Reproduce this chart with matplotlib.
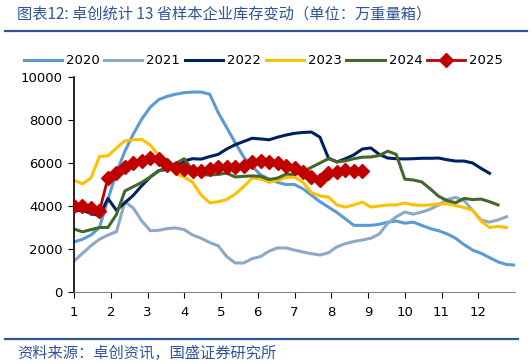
import matplotlib
matplotlib.use('Agg')
import matplotlib.pyplot as plt
import numpy as np

plt.rcParams['font.family'] = ['DejaVu Sans', 'Noto Sans CJK SC']

title = "图表12: 卓创统计 13 省样本企业库存变动（单位：万重量箱）"
source = "资料来源：卓创资讯，国盛证券研究所"

# weekly inventory
y2020 = [2330, 2450, 2650, 3000, 4300, 5550, 6550, 7350, 8050, 8600,
         8950, 9100, 9200, 9270, 9300, 9300, 9200, 8350, 7650, 6950,
         6280, 5850, 5450, 5250, 5100, 5000, 5000, 4800, 4500, 4200,
         3950, 3700, 3400, 3100, 3100, 3100, 3150, 3250, 3300, 3200,
         3250, 3100, 2950, 2850, 2700, 2500, 2200, 1950, 1800, 1600,
         1400, 1280, 1250]
y2021 = [1440, 1800, 2150, 2450, 2650, 2800, 4200, 3900, 3300, 2850,
         2870, 2950, 2980, 2900, 2650, 2500, 2300, 2150, 1650, 1350,
         1350, 1550, 1650, 1900, 2050, 2050, 1950, 1860, 1780, 1720,
         1820, 2100, 2250, 2350, 2420, 2500, 2700, 3200, 3500, 3720,
         3620, 3720, 3850, 4050, 4300, 4400, 4250, 3800, 3350, 3250,
         3350, 3500]
y2022 = [3770, 3800, 3650, 3550, 4350, 3800, 4150, 4500, 4950, 5350,
         5650, 5700, 5850, 6100, 6200, 6180, 6300, 6400, 6650, 6850,
         7000, 7150, 7120, 7080, 7200, 7300, 7380, 7420, 7440, 7200,
         6230, 6050, 6200, 6380, 6650, 6700, 6400, 6230, 6200, 6190,
         6200, 6220, 6220, 6230, 6150, 6090, 6090, 6000, 5750, 5520]
y2023 = [5200, 5030, 5300, 6300, 6330, 6700, 7030, 7080, 7100, 6830,
         6350, 5850, 5500, 5350, 5100, 4500, 4150, 4200, 4300, 4550,
         4900, 5300, 5260, 5100, 5200, 5330, 5350, 5100, 4620, 4470,
         4420, 4050, 3950, 4050, 4180, 3950, 4000, 4050, 4050, 4140,
         4050, 4030, 4050, 4100, 4100, 4020, 3930, 3800, 3300, 3000,
         3050, 3000]
y2024 = [2930, 2800, 2900, 3000, 3000, 3600, 4700, 4900, 5100, 5350,
         5630, 5800, 5980, 6200, 5650, 5450, 5440, 5470, 5530, 5350,
         5380, 5400, 5380, 5230, 5300, 5480, 5470, 5600, 5800, 6000,
         6200, 6050, 6100, 6200, 6270, 6280, 6350, 6550, 6400, 5250,
         5210, 5120, 4800, 4450, 4250, 4150, 4350, 4300, 4320, 4200,
         4050]
y2025 = [4000, 4000, 3900, 3750, 5300, 5550, 5800, 6000, 6100, 6250,
         6200, 5900, 5750, 5700, 5650, 5650, 5700, 5800, 5800, 5800,
         5850, 6050, 6100, 6050, 6000, 5850, 5750, 5580, 5350, 5200,
         5530, 5600, 5680, 5620, 5650]

years = ["2020", "2021", "2022", "2023", "2024", "2025"]
series = [y2020, y2021, y2022, y2023, y2024, y2025]
colors = ["#5B9BD5", "#8EA9C8", "#002060", "#FFC000", "#43682B", "#C00000"]

def week_x(n):
    return 1 + np.arange(n) * 12 / 52

fig = plt.figure(figsize=(5.32, 3.64), dpi=100)
ax = fig.add_axes([74/532, 72/364, 441/532, 215/364])

for name, vals, c in zip(years, series, colors):
    if name == "2025":
        ax.plot(week_x(len(vals)), vals, color=c, lw=2, marker='D',
                markersize=7, label=name, zorder=5)
    else:
        ax.plot(week_x(len(vals)), vals, color=c, lw=2.2, label=name)

ax.set_xlim(1, 13)
ax.set_ylim(0, 10000)
ax.set_xticks(range(1, 13))
ax.set_yticks(range(0, 10001, 2000))
for s in ['top', 'right']:
    ax.spines[s].set_visible(False)
ax.spines['left'].set_linewidth(1.2)
ax.spines['bottom'].set_color('#888888')
ax.tick_params(direction='out', length=4, labelsize=9.5, pad=4)
ax.tick_params(axis='x', pad=6)

fig.legend(loc='center', bbox_to_anchor=(0.495, 1 - 61/364), ncol=6,
           frameon=False, fontsize=9.5, handlelength=2.9, handletextpad=0.3,
           columnspacing=0.35)

blue = "#2F5597"
fig.text(17/532, 1 - 14/364, title, color=blue, fontsize=11, va='center',
         style='italic', family=['Noto Sans CJK SC', 'DejaVu Sans'])
fig.text(17/532, 1 - 353/364, source, color=blue, fontsize=11, va='center',
         style='italic', family=['Noto Sans CJK SC', 'DejaVu Sans'])
fig.add_artist(plt.Line2D([5/532, 527/532], [1 - 31/364, 1 - 31/364],
                          color=blue, lw=1.6))
fig.add_artist(plt.Line2D([5/532, 518/532], [1 - 339/364, 1 - 339/364],
                          color=blue, lw=1.6))

plt.savefig("out.png", dpi=100)
